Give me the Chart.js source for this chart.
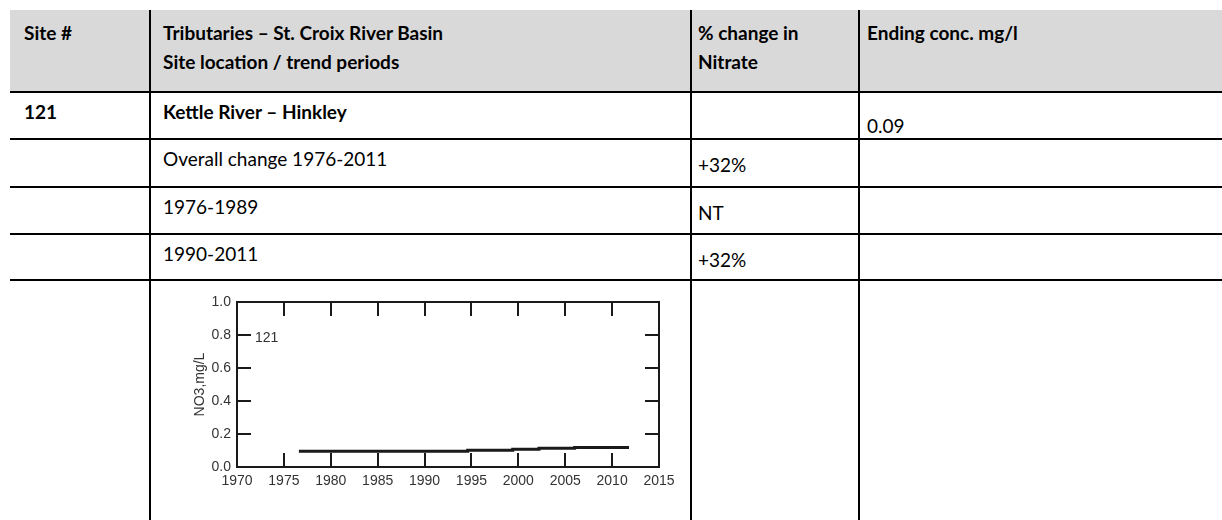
<!DOCTYPE html>
<html lang="en">
<head>
    <meta charset="UTF-8">
    <title>Tributaries - St. Croix River Basin</title>
    <script src="https://cdn.jsdelivr.net/npm/chart.js"></script>
    <style>
        body {
            margin: 0;
            width: 1222px;
            height: 520px;
            overflow: hidden;
            background: white;
            font-family: Lato, "Open Sans", sans-serif;
            font-size: 19px;
            color: #000;
        }
        table {
            position: absolute;
            left: 10px;
            top: 10px;
            width: 1300px;
            table-layout: fixed;
            border-collapse: separate;
            border-spacing: 0;
        }
        td {
            vertical-align: top;
            padding: 0;
            line-height: 24px;
            white-space: nowrap;
        }
        td + td { border-left: 2px solid #000; }
        tr + tr td { border-top: 2px solid #000; }
        .c1 { padding-left: 14px; }
        .c2 { padding-left: 12px; }
        .c3 { padding-left: 6px; }
        .c4 { padding-left: 7px; }
        .head td {
            background: #d9d9d9;
            font-weight: bold;
            line-height: 29px;
            padding-top: 8px;
        }
        .row td { padding-top: 7px; }
        .row td.c3, .row td.c4 { padding-top: 13px; }
        .row td.low { padding-top: 21px; }
        .bold { font-weight: bold; }
        #plot {
            position: absolute;
            left: 150px;
            top: 282px;
            width: 540px;
            height: 238px;
        }
    </style>
</head>
<body>
    <table>
        <colgroup>
            <col style="width:139px">
            <col style="width:541px">
            <col style="width:168px">
            <col style="width:452px">
        </colgroup>
        <tr class="head" style="height:81px">
            <td class="c1">Site #</td>
            <td class="c2">Tributaries – St. Croix River Basin<br>Site location / trend periods</td>
            <td class="c3">% change in<br>Nitrate</td>
            <td class="c4">Ending conc. mg/l</td>
        </tr>
        <tr class="row" style="height:47px">
            <td class="c1 bold">121</td>
            <td class="c2 bold">Kettle River – Hinkley</td>
            <td class="c3"></td>
            <td class="c4 low">0.09</td>
        </tr>
        <tr class="row" style="height:48px">
            <td class="c1"></td>
            <td class="c2">Overall change 1976-2011</td>
            <td class="c3">+32%</td>
            <td class="c4"></td>
        </tr>
        <tr class="row" style="height:47px">
            <td class="c1"></td>
            <td class="c2">1976-1989</td>
            <td class="c3">NT</td>
            <td class="c4"></td>
        </tr>
        <tr class="row" style="height:46px">
            <td class="c1"></td>
            <td class="c2">1990-2011</td>
            <td class="c3">+32%</td>
            <td class="c4"></td>
        </tr>
        <tr class="row" style="height:260px">
            <td class="c1"></td>
            <td class="c2"></td>
            <td class="c3"></td>
            <td class="c4"></td>
        </tr>
    </table>

    <div id="plot"><canvas id="trendChart"></canvas></div>

    <script>
        // nitrate trend line for site 121
        const siteLabel = "121";
        const trendYears = [1976.6, 1994.6, 1999.4, 2002.2, 2006.0, 2011.8];
        const trendNO3 = [0.095, 0.102, 0.108, 0.114, 0.118, 0.118];
        const yearTicks = [1970, 1975, 1980, 1985, 1990, 1995, 2000, 2005, 2010, 2015];
        const concTicks = [0.0, 0.2, 0.4, 0.6, 0.8, 1.0];

        const ink = "#1a1a1a";
        const labelFont = { family: "'Liberation Sans', Arial, sans-serif", size: 14 };

        // box around the plot with inward tick marks on all four sides
        const framePlugin = {
            id: "frame",
            afterDatasetsDraw(chart) {
                const { ctx, chartArea: { left, right, top, bottom }, scales: { x, y } } = chart;
                ctx.save();
                ctx.strokeStyle = ink;
                ctx.lineWidth = 2;
                ctx.strokeRect(left, top, right - left, bottom - top);
                ctx.beginPath();
                x.ticks.forEach(t => {
                    if (t.value <= x.min || t.value >= x.max) return;
                    const px = Math.round(x.getPixelForValue(t.value));
                    ctx.moveTo(px, bottom);
                    ctx.lineTo(px, bottom - 14);
                    ctx.moveTo(px, top);
                    ctx.lineTo(px, top + 14);
                });
                y.ticks.forEach(t => {
                    if (t.value <= y.min || t.value >= y.max) return;
                    const py = Math.round(y.getPixelForValue(t.value));
                    ctx.moveTo(left, py);
                    ctx.lineTo(left + 14, py);
                    ctx.moveTo(right, py);
                    ctx.lineTo(right - 14, py);
                });
                ctx.stroke();
                ctx.fillStyle = "#333";
                ctx.font = "14px 'Liberation Sans', Arial, sans-serif";
                ctx.textBaseline = "middle";
                ctx.fillText(siteLabel, left + 18, y.getPixelForValue(0.8) + 3);
                ctx.restore();
            }
        };

        new Chart(document.getElementById("trendChart"), {
            type: "line",
            data: {
                datasets: [{
                    data: trendYears.map((yr, i) => ({ x: yr, y: trendNO3[i] })),
                    stepped: true,
                    borderColor: ink,
                    borderWidth: 3,
                    pointRadius: 0,
                    fill: false
                }]
            },
            options: {
                responsive: true,
                maintainAspectRatio: false,
                animation: false,
                layout: { padding: { top: 20, right: 31, left: 0, bottom: 0 } },
                plugins: {
                    legend: { display: false },
                    tooltip: { enabled: false }
                },
                scales: {
                    x: {
                        type: "linear",
                        min: 1970,
                        max: 2015,
                        afterBuildTicks: s => { s.ticks = yearTicks.map(v => ({ value: v })); },
                        afterFit: s => { s.height = 53; },
                        grid: { display: false, drawTicks: false },
                        border: { display: false },
                        ticks: {
                            autoSkip: false,
                            maxRotation: 0,
                            padding: 6,
                            color: "#333",
                            font: labelFont,
                            callback: v => String(v)
                        }
                    },
                    y: {
                        min: 0,
                        max: 1,
                        afterBuildTicks: s => { s.ticks = concTicks.map(v => ({ value: v })); },
                        afterFit: s => { s.width = 87; },
                        grid: { display: false, drawTicks: false },
                        border: { display: false },
                        ticks: {
                            padding: 6,
                            color: "#333",
                            font: labelFont,
                            callback: v => Number(v).toFixed(1)
                        },
                        title: {
                            display: true,
                            text: "NO3,mg/L",
                            color: "#333",
                            font: labelFont,
                            padding: { top: 42, bottom: 0 }
                        }
                    }
                }
            },
            plugins: [framePlugin]
        });
    </script>
</body>
</html>
